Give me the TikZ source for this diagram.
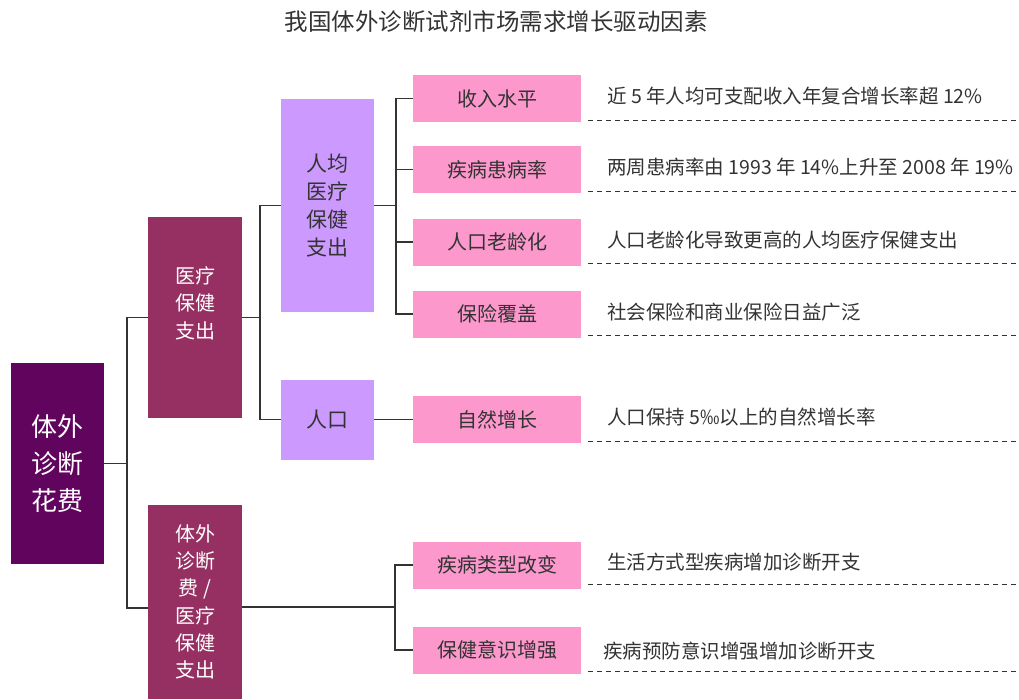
\documentclass[tikz,border=0pt]{standalone}
\usepackage{fontspec}
\setmainfont{Noto Sans CJK SC}
\usepackage{tikz}
\usetikzlibrary{positioning}
\definecolor{rootpurple}{RGB}{96,4,94}
\definecolor{midred}{RGB}{150,48,98}
\definecolor{lilac}{RGB}{204,153,255}
\definecolor{rosepink}{RGB}{252,152,204}
\definecolor{inkgray}{RGB}{51,51,51}

\begin{document}
\begin{tikzpicture}[x=1pt, y=-1pt,
                    root/.style={rectangle, fill=rootpurple, text=white, minimum width=93pt, minimum height=201pt, inner sep=0pt, font=\fontsize{26}{37}\selectfont},
                    cat/.style={rectangle, fill=midred, text=white, minimum width=94pt, inner sep=0pt, font=\fontsize{20}{27.3}\selectfont},
                    sub/.style={rectangle, fill=lilac, text=inkgray, minimum width=93pt, inner sep=0pt, font=\fontsize{21}{28}\selectfont},
                    factor/.style={rectangle, fill=rosepink, text=inkgray, minimum width=168pt, minimum height=47pt, inner sep=0pt, font=\fontsize{20}{24}\selectfont},
                    note/.style={anchor=west, text=inkgray, inner sep=0pt, font=\fontsize{19.5}{24}\selectfont},
                    link/.style={draw=inkgray, line width=1.5pt},
                    dashline/.style={draw=inkgray, line width=1.2pt, dash pattern=on 5pt off 4pt},
                    align=center,
                ]
                \useasboundingbox (0,0) rectangle (1019,699);
                \node[text=inkgray, font=\fontsize{23.5}{28}\selectfont] (title) at (496,22) {我国体外诊断试剂市场需求增长驱动因素};

                \node[root] (spend) at (57.5,463.5) {体外\\诊断\\花费};
                \node[cat, minimum height=201pt, text depth=30pt] (health) at (195,317.5) {医疗\\保健\\支出};
                \node[cat, minimum height=194pt] (ivd) at (195,602) {体外\\诊断\\费 /\\医疗\\保健\\支出};
                \node[sub, minimum height=213pt] (percap) at (327.5,205.5) {人均\\医疗\\保健\\支出};
                \node[sub, minimum height=80pt] (people) at (327.5,419.5) {人口};

                \node[factor] (income) at (497,98.5) {收入水平};
                \node[factor] (illness) at (497,169.5) {疾病患病率};
                \node[factor] (aging) at (497,242) {人口老龄化};
                \node[factor] (insure) at (497,314) {保险覆盖};
                \node[factor] (growth) at (497,419.5) {自然增长};
                \node[factor] (disease) at (497,565) {疾病类型改变};
                \node[factor] (aware) at (497,650) {保健意识增强};

                \node[note] (incomenote) at (607,96.5) {近 5 年人均可支配收入年复合增长率超 12\%};
                \node[note] (illnessnote) at (607,167.5) {两周患病率由 1993 年 14\%上升至 2008 年 19\%};
                \node[note] (agingnote) at (607,240) {人口老龄化导致更高的人均医疗保健支出};
                \node[note] (insurenote) at (607,312) {社会保险和商业保险日益广泛};
                \node[note] (growthnote) at (607,417.5) {人口保持 5‰以上的自然增长率};
                \node[note] (diseasenote) at (607,562.5) {生活方式型疾病增加诊断开支};
                \node[note] (awarenote) at (603,651) {疾病预防意识增强增加诊断开支};
                \coordinate (edge) at (1019,0);

                % tree connectors
                \draw[link] (spend.east) -- ++(23,0) |- (health.west);
                \draw[link] (spend.east) -- ++(23,0) |- ([yshift=-6pt]ivd.west);
                \draw[link] (health.east) -- ++(18,0) |- (percap.west);
                \draw[link] (health.east) -- ++(18,0) |- (people.west);
                \draw[link] (percap.east) -- ++(22,0) |- (income.west);
                \draw[link] (percap.east) -- ++(22,0) |- (illness.west);
                \draw[link] (percap.east) -- ++(22,0) |- (aging.west);
                \draw[link] (percap.east) -- ++(22,0) |- (insure.west);
                \draw[link] (people.east) -- (growth.west);
                \draw[link] ([yshift=-5pt]ivd.east) -- ++(153,0) |- (disease.west);
                \draw[link] ([yshift=-5pt]ivd.east) -- ++(153,0) |- (aware.west);

                % dashed underlines
                \draw[dashline] ([xshift=7pt,yshift=2pt]income.south east) -- ([yshift=2pt]income.south east -| edge);
                \draw[dashline] ([xshift=7pt,yshift=2pt]illness.south east) -- ([yshift=2pt]illness.south east -| edge);
                \draw[dashline] ([xshift=7pt,yshift=2pt]aging.south east) -- ([yshift=2pt]aging.south east -| edge);
                \draw[dashline] ([xshift=7pt,yshift=2pt]insure.south east) -- ([yshift=2pt]insure.south east -| edge);
                \draw[dashline] ([xshift=7pt,yshift=2pt]growth.south east) -- ([yshift=2pt]growth.south east -| edge);
                \draw[dashline] ([xshift=7pt,yshift=4pt]disease.south east) -- ([yshift=4pt]disease.south east -| edge);
                \draw[dashline] ([xshift=7pt,yshift=2pt]aware.south east) -- ([yshift=2pt]aware.south east -| edge);
            \end{tikzpicture}
\end{document}
